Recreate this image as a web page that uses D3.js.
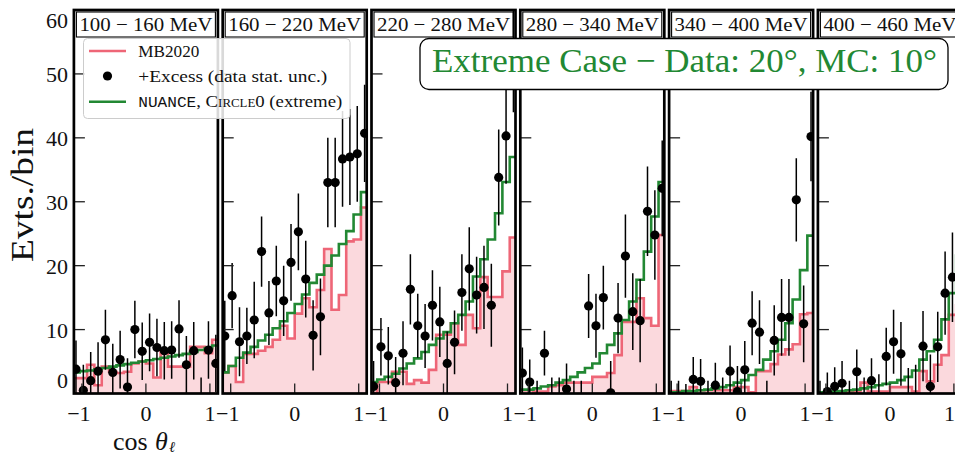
<!DOCTYPE html>
<html><head><meta charset="utf-8">
<script src="https://cdn.jsdelivr.net/npm/d3@7"></script>
<style>body{margin:0;background:#fff}svg{display:block}</style>
</head><body><svg id="c" width="955" height="456"></svg>
<script>
// ---------------- data ----------------
const panelLabels = ["100 − 160 MeV","160 − 220 MeV","220 − 280 MeV","280 − 340 MeV","340 − 400 MeV","400 − 460 MeV"];
const binLow = -1.15, binWidth = 0.115, nBins = 20;
const xTicks = [-1, 0, 1];
const yTicks = [0, 10, 20, 30, 40, 50, 60];

const mb2020 = [
  [2.4,2.4,4.5,1.3,4.2,3.4,3.2,3.4,4.7,5.0,4.7,2.5,6.8,4.2,4.2,4.2,7.3,7.3,6.3,8.4],
  [3.3,4.3,1.8,6.2,6.2,6.7,7.3,8.4,10.6,8.6,12.5,14.9,13.5,16.2,22.6,13.1,15.4,23.8,24.1,29.1],
  [0.1,1.8,1.8,3.4,3.4,1.5,2.1,1.7,3.7,9.2,9.2,11.0,7.6,12.3,10.2,18.2,15.1,15.1,19.1,24.4],
  [0.5,0.5,0.3,0.3,1.1,1.3,1.7,1.7,1.7,1.7,2.6,2.6,3.2,6.0,11.2,11.2,14.9,11.8,10.6,24.8],
  [0.4,0.4,0.4,1.0,0.5,0.5,0.5,0.5,0.5,1.0,1.0,0.2,3.5,3.5,4.6,6.1,6.9,7.7,12.4,12.6],
  [0.2,0.2,0.2,0.2,0.2,0.2,1.7,0.3,0.3,0.3,1.0,1.0,1.0,0.3,3.5,1.9,4.5,6.0,12.3,13.8]
];
const nuance = [
  [3.3,3.5,3.6,3.8,4.0,4.2,4.4,4.6,4.8,5.0,5.2,5.4,5.6,5.8,6.0,6.2,6.5,6.8,7.1,7.5],
  [3.3,4.3,5.6,6.4,7.3,8.3,9.2,10.2,11.3,12.6,14.0,15.5,17.3,18.6,20.0,21.6,23.4,25.4,28.0,31.5],
  [1.8,2.2,2.6,3.1,3.9,4.7,5.5,6.5,7.6,8.6,9.6,11.0,12.3,14.4,18.3,21.0,24.1,28.2,33.1,37.0],
  [0.6,0.6,0.8,1.1,1.3,1.7,2.1,2.6,3.3,4.0,4.7,6.3,7.6,9.4,11.5,14.4,17.8,22.2,27.7,33.1],
  [0.2,0.2,0.4,0.4,0.5,0.6,0.8,1.0,1.3,1.7,2.1,2.9,3.7,5.3,6.6,8.4,11.0,14.7,19.3,24.7],
  [0.2,0.2,0.3,0.4,0.5,0.6,0.8,1.0,1.3,1.5,1.7,2.1,2.6,3.6,5.3,6.6,8.4,11.6,15.7,21.6]
];
const excess = [
  [3.8,0.5,2.0,3.5,8.4,3.3,5.3,1.0,10.0,6.6,8.0,7.2,6.7,6.8,10.1,4.5,6.7,-3.0,6.8,4.7],
  [9.0,15.3,8.1,9.0,11.5,22.2,12.6,17.6,14.5,20.5,25.3,17.9,9.1,12.0,33.0,33.0,36.7,37.0,37.5,40.7],
  [1.1,7.3,5.9,1.7,6.3,16.3,10.6,9.0,13.8,11.2,4.7,8.0,15.8,19.5,15.4,16.6,13.8,33.8,40.3,52.0],
  [3.2,1.8,-2.0,6.3,-1.5,-1.5,0.7,-2.0,-2.0,13.7,10.6,15.0,0.1,11.8,21.5,12.8,11.4,28.5,24.8,32.1],
  [-1.0,-1.0,-1.5,2.2,1.9,-1.0,1.3,-1.0,3.5,0.3,3.7,11.0,9.6,-3.0,8.3,11.9,11.9,30.3,10.9,40.2],
  [-1.0,0.3,1.1,1.6,-1.0,3.4,-1.0,2.0,-1.0,5.8,8.1,6.2,-1.0,-1.0,7.4,1.1,7.3,15.7,18.2,22.0]
];
const excessErr = [
  [4.5,4.0,4.5,4.5,4.7,4.5,4.5,4.5,4.5,4.5,4.5,4.5,4.5,4.5,4.5,4.5,4.5,5.5,4.5,4.5],
  [5.5,5.1,5.4,4.4,6.0,5.5,5.0,5.5,5.5,6.0,6.0,6.0,5.5,6.0,7.0,7.0,7.5,7.5,7.5,7.6],
  [4.0,4.5,4.5,4.0,5.0,5.5,5.0,5.0,5.5,5.5,5.0,5.0,6.0,6.5,6.0,6.5,6.5,7.5,7.5,8.0],
  [4.0,3.5,4.0,3.5,4.0,4.0,4.0,4.0,4.0,5.0,5.0,5.0,5.0,5.5,6.5,6.0,6.5,7.0,7.0,7.5],
  [3.0,3.0,3.0,3.5,3.5,3.0,3.5,3.5,4.0,4.0,4.5,5.0,5.0,5.0,5.5,6.0,6.0,6.5,6.0,7.0],
  [3.0,3.0,3.0,3.5,3.0,3.5,3.5,3.5,4.0,4.5,5.0,5.0,5.0,5.5,5.5,5.0,5.5,6.5,7.0,7.0]
];
const legendLabels = ["MB2020", "+Excess (data stat. unc.)"];
const annotation = "Extreme Case − Data: 20°,  MC: 10°";

// ---------------- style / layout ----------------
const PINK = "#EE6677", GREEN = "#228833", FILL = "#fbd9dd";
const FONT = "'Liberation Serif','Times New Roman',serif";
const plotTop = 10, plotBottom = 393.5;
const firstCenter = 145.9, stepX = 148.8, half = 72;
const xDom = [-1.125, 1.125];

const svg = d3.select("#c");
const y = d3.scaleLinear().domain([0, 60]).range([plotBottom, plotTop]);

const edges = d3.range(nBins + 1).map(i => binLow + binWidth * i);
const centers = d3.range(nBins).map(i => binLow + binWidth * (i + 0.5));

panelLabels.forEach((lab, k) => {
  const c = firstCenter + stepX * k;
  const x = d3.scaleLinear().domain(xDom).range([c - half, c + half]);
  const L = x(xDom[0]), R = x(xDom[1]);
  const g = svg.append("g");
  const cid = "clip" + k;
  g.append("clipPath").attr("id", cid).append("rect")
    .attr("x", L).attr("y", plotTop).attr("width", R - L).attr("height", plotBottom - plotTop);
  const inner = g.append("g").attr("clip-path", `url(#${cid})`);

  const stepData = vals => edges.map((e, i) => [e, vals[Math.min(i, nBins - 1)]]);
  const area = d3.area().curve(d3.curveStepAfter).x(d => x(d[0])).y0(y(-2)).y1(d => y(d[1]));
  const line = d3.line().curve(d3.curveStepAfter).x(d => x(d[0])).y(d => y(d[1]));

  inner.append("path").attr("d", area(stepData(mb2020[k]))).attr("fill", FILL);
  inner.append("path").attr("d", line(stepData(mb2020[k]))).attr("fill", "none")
    .attr("stroke", PINK).attr("stroke-width", 2.6);
  inner.append("path").attr("d", line(stepData(nuance[k]))).attr("fill", "none")
    .attr("stroke", GREEN).attr("stroke-width", 2.6);

  centers.forEach((cx, i) => {
    const v = excess[k][i], e = excessErr[k][i];
    inner.append("line").attr("x1", x(cx)).attr("x2", x(cx))
      .attr("y1", y(v - e)).attr("y2", y(v + e)).attr("stroke", "#000").attr("stroke-width", 1.5);
    inner.append("circle").attr("cx", x(cx)).attr("cy", y(v)).attr("r", 4.6).attr("fill", "#000");
  });

  yTicks.filter(t => t > 0 && t < 60).forEach(t => {
    g.append("line").attr("x1", L).attr("x2", L + 11).attr("y1", y(t)).attr("y2", y(t))
      .attr("stroke", "#222").attr("stroke-width", 1.3);
  });
  xTicks.forEach(t => {
    g.append("line").attr("x1", x(t)).attr("x2", x(t)).attr("y1", plotBottom).attr("y2", plotBottom - 10)
      .attr("stroke", "#222").attr("stroke-width", 1.3);
    const tx = x(t) + (t < 0 ? -3 : 0);
    if (tx < 950) {
      g.append("text").attr("x", tx).attr("y", 421).attr("text-anchor", "middle")
        .attr("font-family", FONT).attr("font-size", 22).attr("fill", "#111")
        .text(t < 0 ? "−" + Math.abs(t) : String(t));
    } else {
      g.append("text").attr("x", 955).attr("y", 421).attr("text-anchor", "end")
        .attr("font-family", FONT).attr("font-size", 22).attr("fill", "#111").text(String(t));
    }
  });

  g.append("rect").attr("x", L).attr("y", plotTop).attr("width", R - L).attr("height", plotBottom - plotTop)
    .attr("fill", "none").attr("stroke", "#000").attr("stroke-width", 2.7);

  g.append("rect").attr("x", L + 2.5).attr("y", 12).attr("width", R - L - 5).attr("height", 25)
    .attr("fill", "#fff").attr("stroke", "#000").attr("stroke-width", 1.1);
  g.append("text").attr("x", L + 5.5).attr("y", 31).attr("font-family", FONT).attr("font-size", 19.5)
    .attr("fill", "#111").attr("textLength", 133).attr("lengthAdjust", "spacingAndGlyphs").text(lab);

  if (k === 0) {
    yTicks.forEach(t => {
      let by = y(t) + 8.3;
      if (t === 60) by = 28.3;
      if (t === 0) by = 388;
      g.append("text").attr("x", 68).attr("y", by).attr("text-anchor", "end")
        .attr("font-family", FONT).attr("font-size", 22).attr("fill", "#111").text(t);
    });
  }
});

svg.append("text").attr("transform", "translate(33.3,195) rotate(-90)").attr("text-anchor", "middle")
  .attr("font-family", FONT).attr("font-size", 31).attr("fill", "#111")
  .attr("textLength", 134).attr("lengthAdjust", "spacingAndGlyphs").text("Evts./bin");
// x label: cos θ_ℓ
svg.append("text").attr("x", 113).attr("y", 450).attr("font-family", FONT)
  .attr("font-size", 26).attr("fill", "#111").text("cos");
svg.append("text").attr("x", 155).attr("y", 450).attr("font-family", FONT)
  .attr("font-size", 26).attr("font-style", "italic").attr("fill", "#111").text("θ");
svg.append("text").attr("x", 169).attr("y", 452).attr("font-family", FONT)
  .attr("font-size", 15).attr("font-style", "italic").attr("fill", "#111").text("ℓ");

const lg = svg.append("g");
lg.append("rect").attr("x", 83.5).attr("y", 38.5).attr("width", 266.5).attr("height", 80).attr("rx", 4)
  .attr("fill", "#fff").attr("fill-opacity", 0.85).attr("stroke", "#ccc").attr("stroke-width", 1);
lg.append("line").attr("x1", 89).attr("x2", 126).attr("y1", 51).attr("y2", 51).attr("stroke", PINK).attr("stroke-width", 2.6);
lg.append("circle").attr("cx", 107.5).attr("cy", 76).attr("r", 4.6).attr("fill", "#000");
lg.append("line").attr("x1", 89).attr("x2", 126).attr("y1", 101.7).attr("y2", 101.7).attr("stroke", GREEN).attr("stroke-width", 2.6);
lg.append("text").attr("x", 138.3).attr("y", 57.3).attr("font-family", FONT).attr("font-size", 17.5).attr("fill", "#111")
  .attr("textLength", 61).attr("lengthAdjust", "spacingAndGlyphs").text(legendLabels[0]);
lg.append("text").attr("x", 138.3).attr("y", 81.7).attr("font-family", FONT).attr("font-size", 17.5).attr("fill", "#111")
  .attr("textLength", 189).attr("lengthAdjust", "spacingAndGlyphs").text(legendLabels[1]);
const t3 = lg.append("text").attr("x", 138.3).attr("y", 107).attr("font-family", FONT).attr("font-size", 17.5)
  .attr("fill", "#111").attr("textLength", 204).attr("lengthAdjust", "spacingAndGlyphs");
t3.append("tspan").attr("font-family", "'Liberation Mono','DejaVu Sans Mono',monospace").attr("font-size", 15).text("NUANCE");
t3.append("tspan").text(", ");
t3.append("tspan").attr("font-variant", "small-caps").text("Circle0");
t3.append("tspan").text(" (extreme)");

svg.append("rect").attr("x", 420).attr("y", 38.5).attr("width", 528).attr("height", 51).attr("rx", 9)
  .attr("fill", "#fff").attr("stroke", "#000").attr("stroke-width", 1.3);
svg.append("text").attr("x", 432).attr("y", 72).attr("font-family", FONT).attr("font-size", 34)
  .attr("fill", GREEN).attr("textLength", 505).attr("lengthAdjust", "spacingAndGlyphs").text(annotation);
</script></body></html>
